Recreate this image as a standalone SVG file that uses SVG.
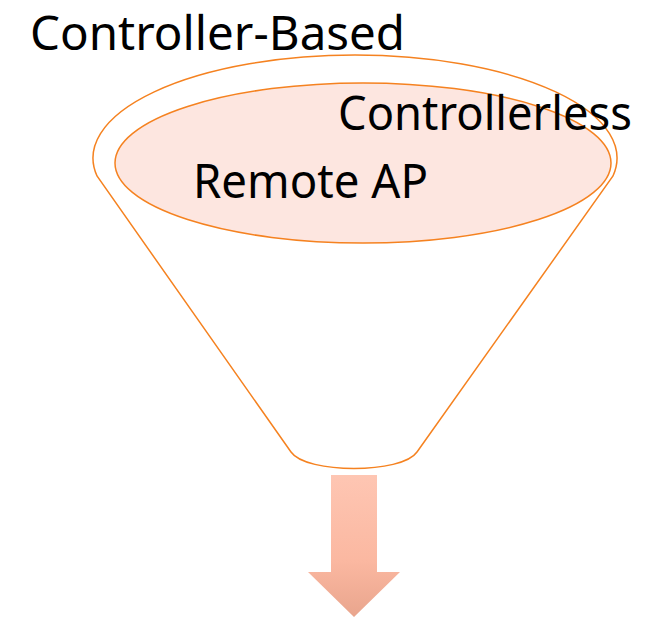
<svg xmlns="http://www.w3.org/2000/svg" width="664" height="617" viewBox="0 0 664 617">
  <style>
    .label { font-family: "Noto Sans", "DejaVu Sans", sans-serif; font-size: 47px; fill: #000; }
    .funnel { fill: #fff; stroke: #F58220; stroke-width: 1.5; }
    .inner { fill: #FDE6E0; stroke: #F58220; stroke-width: 1.5; }
  </style>
  <defs>
    <linearGradient id="arrowFill" x1="0" y1="0" x2="0" y2="1">
      <stop offset="0" stop-color="#FEC6B3"/>
      <stop offset="0.6" stop-color="#FBB8A1"/>
      <stop offset="1" stop-color="#E9A58D"/>
    </linearGradient>
  </defs>

  <text class="label" x="30" y="50" textLength="375" lengthAdjust="spacingAndGlyphs">Controller-Based</text>

  <!-- funnel body: elliptical rim, tapered sides, rounded spout -->
  <g id="funnel">
    <path class="funnel" d="M97,176 A262,103 0 1 1 613,176 L417,452 C402,474 306,474 291,452 Z"/>
  </g>

  <g id="controllerless">
    <ellipse class="inner" cx="363" cy="163" rx="248" ry="80"/>
    <text class="label" x="338" y="130" textLength="294" lengthAdjust="spacingAndGlyphs">Controllerless</text>
  </g>

  <g id="remote-ap">
    <text class="label" x="193" y="198" textLength="235" lengthAdjust="spacingAndGlyphs">Remote AP</text>
  </g>

  <g id="connectors">
    <polygon fill="url(#arrowFill)" points="331,475 377,475 377,572 400,572 354,617 308,572 331,572"/>
  </g>
</svg>
